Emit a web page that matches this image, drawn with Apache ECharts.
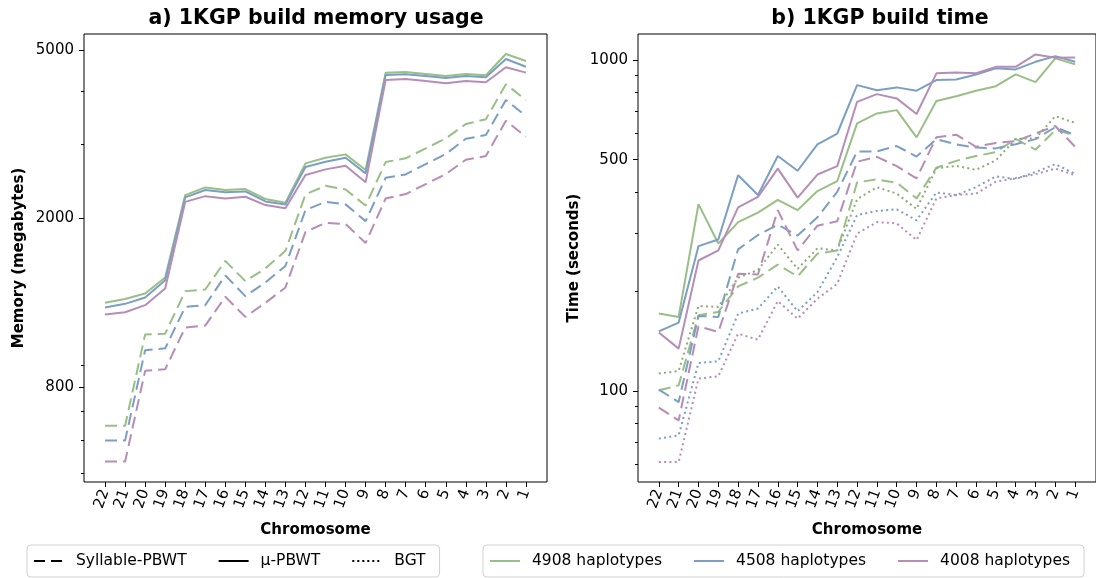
<!DOCTYPE html>
<html>
<head>
<meta charset="utf-8">
<script src="https://cdn.jsdelivr.net/npm/echarts@6/dist/echarts.min.js"></script>
<style>
html,body{margin:0;padding:0;background:#fff;}
#chart{width:1096px;height:578px;}
</style>
</head>
<body>
<div id="chart"></div>
<script>
const chromosomes = ['22','21','20','19','18','17','16','15','14','13','12','11','10','9','8','7','6','5','4','3','2','1'];
const haplotypeLabels = ['4908 haplotypes','4508 haplotypes','4008 haplotypes'];
const methodLabels = ['Syllable-PBWT','μ-PBWT','BGT'];

// a) memory usage (megabytes)
const memSyllable4908 = [648,648,1064,1069,1347,1359,1588,1422,1524,1677,2280,2389,2342,2145,2718,2774,2928,3092,3343,3430,4149,3809];
const memSyllable4508 = [598,598,977,987,1236,1248,1467,1311,1412,1545,2093,2189,2159,1971,2495,2541,2688,2839,3085,3148,3809,3491];
const memSyllable4008 = [533,533,873,881,1105,1117,1306,1171,1264,1374,1859,1953,1939,1751,2230,2284,2411,2546,2752,2809,3403,3119];
const memMu4908 = [1264,1290,1330,1450,2271,2368,2334,2347,2223,2178,2699,2782,2834,2602,4420,4436,4387,4340,4387,4357,4892,4710];
const memMu4508 = [1232,1257,1301,1430,2243,2334,2305,2317,2194,2159,2645,2722,2782,2556,4364,4380,4340,4294,4340,4310,4761,4565];
const memMu4008 = [1186,1201,1248,1366,2189,2258,2230,2250,2151,2113,2532,2612,2664,2434,4247,4270,4224,4172,4224,4194,4550,4420];

// b) build time (seconds)
const timeSyllable4908 = [100.5,104,169.4,173.4,207,220,241,222,260,266,427,436,426,382,473,496,513,527,578,536,614,593];
const timeSyllable4508 = [101,92.6,168.6,167.4,268,296,318,295,335,400,529,530,550,511,577,556,544,541,557,577,627,593];
const timeSyllable4008 = [89.1,81.5,156.9,150.8,226,225,352,266,316,326,493,510,478,439,585,595,547,562,569,600,632,547];
const timeMu4908 = [171.4,167.4,367,279,324,346,378,352,402,431,644,690,706,584,752,778,808,834,905,858,1012,971];
const timeMu4508 = [151.5,161,274,287,449,391,513,463,556,600,840,811,827,808,870,874,905,944,937,988,1028,988];
const timeMu4008 = [150.2,134.3,248,266,359,386,470,384,451,478,748,789,766,687,912,918,912,954,954,1040,1016,1019];
const timeBGT4908 = [112.9,115,180.7,179.5,220,232,277,234,270,266,380,413,395,355,471,479,466,498,578,580,677,646];
const timeBGT4508 = [71.8,73.5,121.5,123,171.4,177.5,207,174.2,199,254,340,350,354,328,398,391,413,445,437,459,485,453];
const timeBGT4008 = [61,61,109,110.8,149,143,187,165.5,190,211,299,324,321,286,382,391,395,429,440,452,470,449];

const memMajorTicks = [800,2000,5000];
const memMinorTicks = [500,600,700,900,3000,4000];
const timeMajorTicks = [100,500,1000];
const timeMinorTicks = [60,70,80,90,200,300,400,600,700,800,900];

const colors = ['#99bf86','#7b9fc4','#b68db6'];
const dashStyles = {syl:[12,6], mu:'solid', bgt:[2,3.3]};

const L = Math.log10;
const toPts = arr => arr.map((v,i)=>[i, L(v)]);
const idx = chromosomes.map((c,i)=>i);
const FONT = 'DejaVu Sans';
const GRID_RECTS = [{left:84, top:34, width:463, height:448},{left:638, top:34, width:463, height:448}];

function makeX(gi){
  return {
    type:'value', gridIndex:gi, min:-1.05, max:22.05,
    axisLine:{show:false, onZero:false}, splitLine:{show:false},
    axisTick:{show:true, customValues:idx, length:5, lineStyle:{color:'#000',width:1}},
    axisLabel:{show:true, customValues:idx, rotate:70, margin:8, fontFamily:FONT, fontSize:15, color:'#000',
      formatter:v=>chromosomes[Math.round(v)]},
    name:'Chromosome', nameLocation:'middle', nameGap:41,
    nameTextStyle:{fontFamily:FONT, fontWeight:'bold', fontSize:15, color:'#000'}
  };
}
function makeHiddenX(gi){
  return {type:'value', gridIndex:gi, min:-1.05, max:22.05, show:false, axisLine:{onZero:false}};
}
function makeY(gi, lo, hi, major, name, gap){
  return {
    type:'value', gridIndex:gi, min:L(lo), max:L(hi),
    axisLine:{show:false, onZero:false}, splitLine:{show:false},
    axisTick:{show:true, customValues:major.map(L), length:5, lineStyle:{color:'#000',width:1}},
    axisLabel:{show:true, customValues:major.map(L), margin:10, fontFamily:FONT, fontSize:15, color:'#000',
      formatter:v=>String(Math.round(Math.pow(10,v)))},
    name:name, nameLocation:'middle', nameRotate:90, nameGap:gap,
    nameTextStyle:{fontFamily:FONT, fontWeight:'bold', fontSize:15, color:'#000'}
  };
}
function makeMinorY(gi, lo, hi, minor){
  return {
    type:'value', gridIndex:gi, min:L(lo), max:L(hi), position:'left',
    axisLine:{show:false, onZero:false}, splitLine:{show:false},
    axisTick:{show:true, customValues:minor.map(L), length:3, lineStyle:{color:'#000',width:1}},
    axisLabel:{show:false}
  };
}

function line(name, data, gi, color, dash){
  return {
    type:'line', name:name, xAxisIndex:gi, yAxisIndex:gi, data:toPts(data),
    symbol:'none', silent:true, animation:false,
    lineStyle:{color:color, width:2, type:dash, cap:'butt'}
  };
}

const series = [
  line('m-syl-4908', memSyllable4908, 0, colors[0], dashStyles.syl),
  line('m-syl-4508', memSyllable4508, 0, colors[1], dashStyles.syl),
  line('m-syl-4008', memSyllable4008, 0, colors[2], dashStyles.syl),
  line('m-mu-4908', memMu4908, 0, colors[0], dashStyles.mu),
  line('m-mu-4508', memMu4508, 0, colors[1], dashStyles.mu),
  line('m-mu-4008', memMu4008, 0, colors[2], dashStyles.mu),
  line('t-syl-4908', timeSyllable4908, 1, colors[0], dashStyles.syl),
  line('t-syl-4508', timeSyllable4508, 1, colors[1], dashStyles.syl),
  line('t-syl-4008', timeSyllable4008, 1, colors[2], dashStyles.syl),
  line('t-mu-4908', timeMu4908, 1, colors[0], dashStyles.mu),
  line('t-mu-4508', timeMu4508, 1, colors[1], dashStyles.mu),
  line('t-mu-4008', timeMu4008, 1, colors[2], dashStyles.mu),
  line('t-bgt-4908', timeBGT4908, 1, '#8fa97e', dashStyles.bgt),
  line('t-bgt-4508', timeBGT4508, 1, colors[1], dashStyles.bgt),
  line('t-bgt-4008', timeBGT4008, 1, colors[2], dashStyles.bgt),
];
// legend-only entries
const legendStyles = [[11,6],'solid',[2,3]];
methodLabels.forEach((m,k)=>series.push({type:'line', name:m, xAxisIndex:0, yAxisIndex:0, data:[], symbol:'none',
  lineStyle:{color:'#000', width:2, type:legendStyles[k]}, itemStyle:{color:'#000'}}));
haplotypeLabels.forEach((h,k)=>series.push({type:'line', name:h, xAxisIndex:0, yAxisIndex:0, data:[], symbol:'none',
  lineStyle:{color:colors[k], width:2.5}, itemStyle:{color:colors[k]}}));

const legendCommon = {
  top:545, orient:'horizontal', itemWidth:30, itemHeight:14, itemGap:31,
  padding:[8,14,8,6], borderColor:'#d0d0d0', borderWidth:1, borderRadius:4,
  itemStyle:{opacity:0},
  textStyle:{fontFamily:FONT, fontSize:15.5, color:'#000', padding:[0,0,0,7]}, selectedMode:false
};

const option = {
  animation:false,
  backgroundColor:'#fff',
  grid:[
    Object.assign({show:true, borderColor:'#000', borderWidth:1, backgroundColor:'transparent'}, GRID_RECTS[0]),
    Object.assign({show:true, borderColor:'#000', borderWidth:1, backgroundColor:'transparent'}, GRID_RECTS[1]),
    Object.assign({show:false}, GRID_RECTS[0]),
    Object.assign({show:false}, GRID_RECTS[1])
  ],
  xAxis:[makeX(0), makeX(1), makeHiddenX(2), makeHiddenX(3)],
  yAxis:[
    makeY(0, 477, 5454, memMajorTicks, 'Memory (megabytes)', 57),
    makeY(1, 53.1, 1199, timeMajorTicks, 'Time (seconds)', 56),
    makeMinorY(2, 477, 5454, memMinorTicks),
    makeMinorY(3, 53.1, 1199, timeMinorTicks)
  ],
  legend:[
    Object.assign({left:27, data:methodLabels}, legendCommon),
    Object.assign({left:483, data:haplotypeLabels}, legendCommon)
  ],
  graphic:[
    {type:'text', x:316, y:8, style:{text:'a) 1KGP build memory usage', fontFamily:FONT, fontWeight:'bold', fontSize:20.5, fill:'#000', textAlign:'center'}},
    {type:'text', x:880, y:8, style:{text:'b) 1KGP build time', fontFamily:FONT, fontWeight:'bold', fontSize:20.5, fill:'#000', textAlign:'center'}}
  ],
  series:series
};

const chart = echarts.init(document.getElementById('chart'), null, {renderer:'canvas'});
chart.setOption(option);
</script>
</body>
</html>
